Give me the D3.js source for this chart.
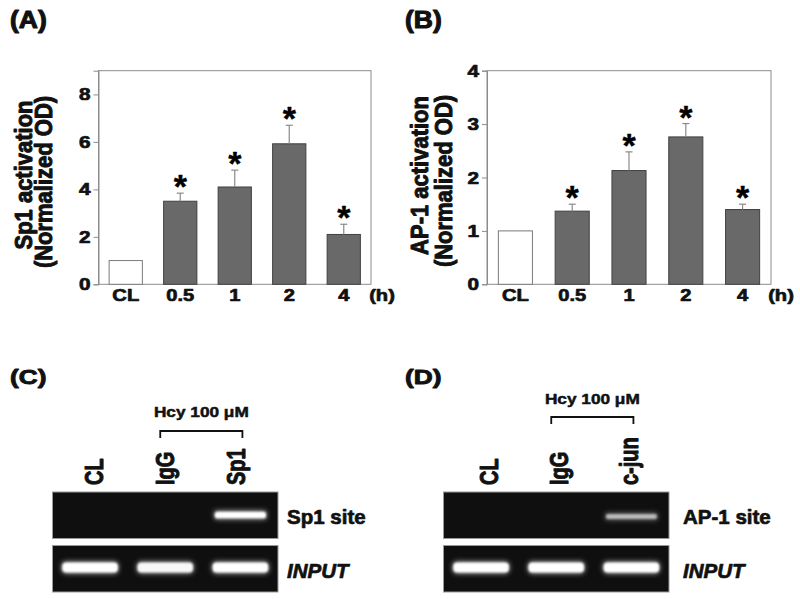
<!DOCTYPE html>
<html><head><meta charset="utf-8">
<script src="https://cdn.jsdelivr.net/npm/d3@7"></script>
<style>
html,body{margin:0;padding:0;background:#fff;}
svg{display:block;font-family:"Liberation Sans",Arial,Helvetica,sans-serif;}
</style></head>
<body>
<svg id="chart" width="800" height="599"></svg>
<script>
// ---------- DATA ----------
const categories = ["CL", "0.5", "1", "2", "4"];
const sp1Mean = [1.0, 3.5, 4.1, 5.92, 2.1];
const sp1Err  = [0, 0.34, 0.71, 0.78, 0.43];
const sp1Sig  = [false, true, true, true, true];
const sp1Ticks = [0, 2, 4, 6, 8];
const ap1Mean = [1.0, 1.37, 2.13, 2.76, 1.40];
const ap1Err  = [0, 0.13, 0.35, 0.25, 0.10];
const ap1Sig  = [false, true, true, true, true];
const ap1Ticks = [0, 1, 2, 3, 4];

const lanesC = ["CL", "IgG", "Sp1"];
const lanesD = ["CL", "IgG", "c-jun"];
const sp1SiteBand = [0, 0, 1.0];
const inputBandC = [1.0, 0.95, 1.0];
const ap1SiteBand = [0, 0, 0.6];
const inputBandD = [1.0, 1.0, 1.0];

// ---------- HELPERS ----------
const svg = d3.select("#chart");
const defs = svg.append("defs");
defs.append("filter").attr("id", "blurS").attr("x", "-20%").attr("y", "-100%").attr("width", "140%").attr("height", "300%")
  .append("feGaussianBlur").attr("stdDeviation", 1.2);
defs.append("filter").attr("id", "blurL").attr("x", "-30%").attr("y", "-150%").attr("width", "160%").attr("height", "400%")
  .append("feGaussianBlur").attr("stdDeviation", 2.5);

function stext(g, x, y, str, o) {
  const size = o.size, st = o.stretch || 1;
  const tr = o.rotate
    ? `translate(${x},${y}) rotate(-90) scale(1,${st})`
    : `translate(${x},${y}) scale(${st},1)`;
  const col = o.fill || "#111";
  return g.append("text")
    .attr("transform", tr)
    .attr("font-size", size)
    .attr("font-weight", o.weight || "bold")
    .attr("font-style", o.style || "normal")
    .attr("text-anchor", o.anchor || "start")
    .attr("fill", col)
    .attr("stroke", col)
    .attr("stroke-width", o.sw === undefined ? 0.7 : o.sw)
    .attr("stroke-linejoin", "round")
    .text(str);
}

function barPanel(cfg) {
  const g = svg.append("g");
  const x = d3.scaleBand().domain(categories).range([cfg.x0, cfg.x1])
    .paddingInner(cfg.pad).paddingOuter(cfg.pad / 2);
  const y = d3.scaleLinear().domain([0, cfg.yMax]).range([cfg.yb, cfg.yt]);

  // frame
  g.append("rect").attr("x", cfg.x0).attr("y", cfg.yt)
    .attr("width", cfg.x1 - cfg.x0).attr("height", cfg.yb - cfg.yt)
    .attr("fill", "none").attr("stroke", "#8c8c8c").attr("stroke-width", 1);

  // left axis ticks
  const ax = g.append("g").attr("transform", `translate(${cfg.x0},0)`)
    .call(d3.axisLeft(y).tickValues(cfg.ticks).tickSize(5).tickFormat(""));
  ax.select(".domain").attr("stroke", "#8c8c8c");
  ax.selectAll(".tick line").attr("stroke", "#8c8c8c");
  cfg.ticks.forEach(t => {
    stext(g, cfg.x0 - 8, y(t) + 6, String(t), {size: 17, stretch: 1.22, anchor: "end"});
  });

  // bars
  const data = categories.map((c, i) => ({c, m: cfg.mean[i], e: cfg.err[i], s: cfg.sig[i], i}));
  g.selectAll("rect.bar").data(data).enter().append("rect")
    .attr("class", "bar")
    .attr("x", d => x(d.c)).attr("width", x.bandwidth())
    .attr("y", d => y(d.m)).attr("height", d => y(0) - y(d.m))
    .attr("fill", d => d.i === 0 ? "#ffffff" : "#696969")
    .attr("stroke", d => d.i === 0 ? "#7a7a7a" : "#404040")
    .attr("stroke-width", 1);

  // error bars
  const eb = data.filter(d => d.e > 0);
  const cx = d => x(d.c) + x.bandwidth() / 2;
  g.selectAll("line.err").data(eb).enter().append("line")
    .attr("x1", cx).attr("x2", cx)
    .attr("y1", d => y(d.m)).attr("y2", d => y(d.m + d.e))
    .attr("stroke", "#8a8a8a").attr("stroke-width", 1.2);
  g.selectAll("line.cap").data(eb).enter().append("line")
    .attr("x1", d => cx(d) - 3.5).attr("x2", d => cx(d) + 3.5)
    .attr("y1", d => y(d.m + d.e)).attr("y2", d => y(d.m + d.e))
    .attr("stroke", "#8a8a8a").attr("stroke-width", 1.2);

  // asterisks
  data.filter(d => d.s).forEach(d => {
    stext(g, cx(d), y(d.m + d.e) + 5, "*", {size: 34, anchor: "middle", fill: "#000", sw: 0.4});
  });

  // x labels
  categories.forEach(c => {
    stext(g, x(c) + x.bandwidth() / 2, 301, c, {size: 16.5, stretch: 1.22, anchor: "middle"});
  });
  stext(g, cfg.hx, 301, "(h)", {size: 16.5, stretch: 1.22, anchor: "middle"});

  // y titles
  stext(g, cfg.t1x, cfg.t1y, cfg.title1, {size: 22, stretch: 1.12, anchor: "middle", rotate: true, sw: 0.9});
  stext(g, cfg.t2x, cfg.t2y, cfg.title2, {size: 22, stretch: 1.12, anchor: "middle", rotate: true, sw: 0.9});

  // panel label
  stext(g, cfg.lx, 28, cfg.label, {size: 23, stretch: 1.15, sw: 1});
}

barPanel({
  x0: 98.5, x1: 371, yt: 70.7, yb: 284.3, pad: 0.39, yMax: 9, ticks: sp1Ticks,
  mean: sp1Mean, err: sp1Err, sig: sp1Sig, hx: 382,
  title1: "Sp1 activation", t1x: 32, t1y: 175,
  title2: "(Normalized OD)", t2x: 51.5, t2y: 182,
  label: "(A)", lx: 10
});
barPanel({
  x0: 487, x1: 771, yt: 70.7, yb: 284.3, pad: 0.4, yMax: 4, ticks: ap1Ticks,
  mean: ap1Mean, err: ap1Err, sig: ap1Sig, hx: 781,
  title1: "AP-1 activation", t1x: 428, t1y: 175.5,
  title2: "(Normalized OD)", t2x: 451.5, t2y: 181,
  label: "(B)", lx: 405
});

function gelPanel(cfg) {
  const g = svg.append("g");
  const lane = d3.scaleBand().domain(cfg.lanes).range([cfg.gx0, cfg.gx1]);
  const labelPos = d3.scalePoint().domain(cfg.lanes).range(cfg.labelRange);
  const lc = l => lane(l) + lane.bandwidth() / 2;

  stext(g, cfg.lx, 384, cfg.label, {size: 21, stretch: 1.25, sw: 0.9});

  // treatment bracket
  const bx0 = lc(cfg.lanes[1]) - 5, bx1 = lc(cfg.lanes[2]) + 2;
  g.append("path")
    .attr("d", `M${bx0},${cfg.by + 7}V${cfg.by}H${bx1}V${cfg.by + 7}`)
    .attr("fill", "none").attr("stroke", "#111").attr("stroke-width", 1.8);
  stext(g, (bx0 + bx1) / 2, cfg.hy, "Hcy 100 \u03bcM", {size: 15, stretch: 1.15, anchor: "middle", sw: 0.5});

  // lane labels
  cfg.lanes.forEach(l => {
    stext(g, labelPos(l), 485, l, {size: 20, stretch: 1.25, rotate: true, sw: 0.8});
  });

  // gel boxes
  const rows = [
    {y0: 492, y1: 538.5, vals: cfg.siteBand, cy: cfg.siteY, h: cfg.siteH, name: cfg.siteName, italic: false, wf: 0.68},
    {y0: 545.5, y1: 592, vals: cfg.inputBand, cy: 567.5, h: 10, name: "INPUT", italic: true, wf: 0.74}
  ];
  rows.forEach(r => {
    g.append("rect").attr("x", cfg.gx0).attr("y", r.y0)
      .attr("width", cfg.gx1 - cfg.gx0).attr("height", r.y1 - r.y0)
      .attr("fill", "#0f0f0f").attr("stroke", "#9a9a9a").attr("stroke-width", 1);
    const bw = lane.bandwidth() * r.wf;
    const bands = cfg.lanes.map((l, i) => ({l, v: r.vals[i]})).filter(d => d.v > 0);
    // glow
    g.selectAll(null).data(bands).enter().append("rect")
      .attr("x", d => lc(d.l) - bw / 2 - 1).attr("width", bw + 2)
      .attr("y", r.cy - r.h / 2 - 1.5).attr("height", r.h + 3)
      .attr("rx", r.h / 2).attr("fill", "#bfbfbf")
      .attr("opacity", d => d.v * 0.7).attr("filter", "url(#blurL)");
    // core
    g.selectAll(null).data(bands).enter().append("rect")
      .attr("x", d => lc(d.l) - bw / 2).attr("width", bw)
      .attr("y", r.cy - r.h / 2).attr("height", r.h)
      .attr("rx", r.h / 2.5).attr("fill", "#ffffff")
      .attr("opacity", d => d.v).attr("filter", "url(#blurS)");
    stext(g, cfg.tx, r.italic ? 577.7 : 524, r.name, {size: 20.5, style: r.italic ? "italic" : "normal", sw: 0.7});
  });
}

gelPanel({
  lanes: lanesC, gx0: 52.5, gx1: 278, labelRange: [103, 245],
  label: "(C)", lx: 10, by: 431, hy: 417,
  siteBand: sp1SiteBand, siteY: 515, siteH: 6.5, siteName: "Sp1 site",
  inputBand: inputBandC, tx: 287
});
gelPanel({
  lanes: lanesD, gx0: 443.5, gx1: 669, labelRange: [498, 638],
  label: "(D)", lx: 405, by: 417, hy: 404,
  siteBand: ap1SiteBand, siteY: 516.5, siteH: 5, siteName: "AP-1 site",
  inputBand: inputBandD, tx: 683
});
</script>
</body></html>
